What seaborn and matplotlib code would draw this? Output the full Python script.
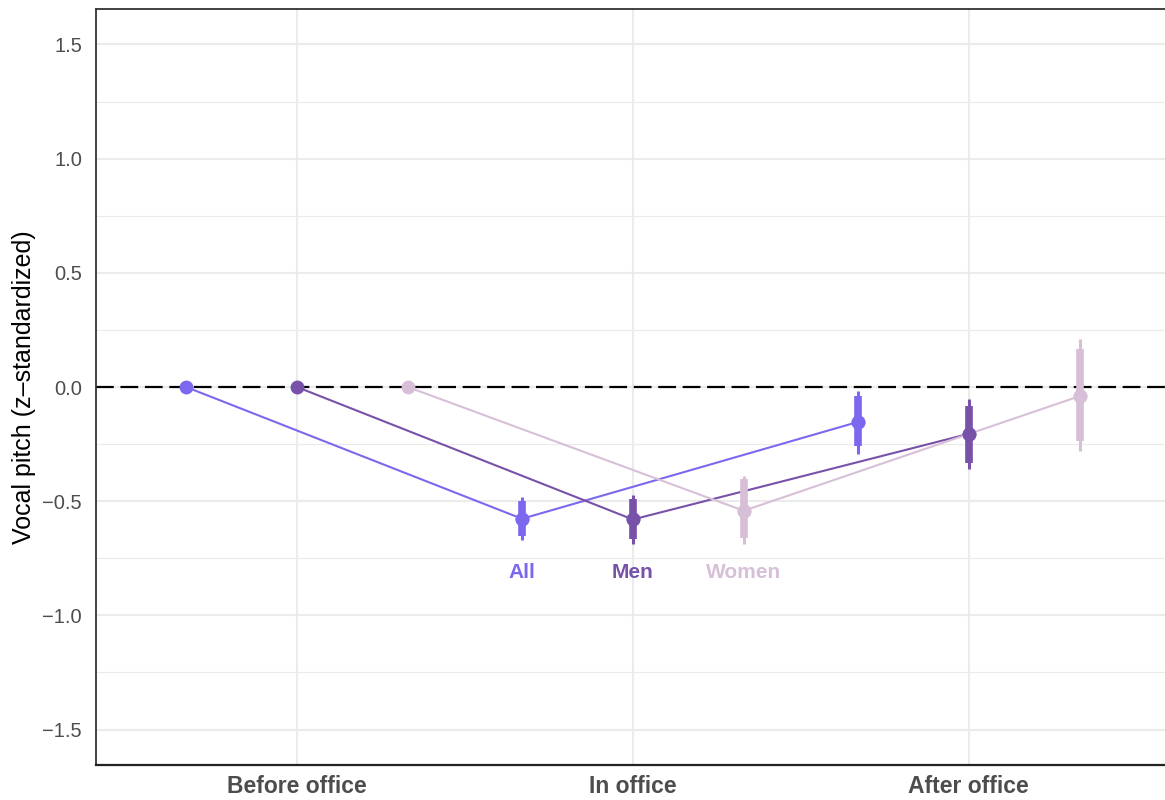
import numpy as np
import pandas as pd
import matplotlib
matplotlib.use("Agg")
import matplotlib.pyplot as plt
import seaborn as sns

# Periods relative to holding office and the three speaker groups
periods = ["Before office", "In office", "After office"]
groups = ["All", "Men", "Women"]
colors = ["#7B68EE", "#7851A9", "#D8BFD8"]

# Point estimates of vocal pitch (z-standardized); "Before office" is the reference level
all_est = [0.0, -0.577, -0.153]
men_est = [0.0, -0.580, -0.205]
women_est = [0.0, -0.542, -0.040]

# Inner (thick) intervals, lower / upper; reference level has none
all_inner_lo = [np.nan, -0.652, -0.258]
all_inner_hi = [np.nan, -0.499, -0.039]
men_inner_lo = [np.nan, -0.665, -0.332]
men_inner_hi = [np.nan, -0.490, -0.083]
women_inner_lo = [np.nan, -0.660, -0.236]
women_inner_hi = [np.nan, -0.402, 0.166]

# Outer (thin) intervals, lower / upper
all_outer_lo = [np.nan, -0.669, -0.293]
all_outer_hi = [np.nan, -0.481, -0.017]
men_outer_lo = [np.nan, -0.686, -0.359]
men_outer_hi = [np.nan, -0.472, -0.052]
women_outer_lo = [np.nan, -0.686, -0.280]
women_outer_hi = [np.nan, -0.389, 0.210]

label_y = -0.81

estimates = [all_est, men_est, women_est]
inner_lo = [all_inner_lo, men_inner_lo, women_inner_lo]
inner_hi = [all_inner_hi, men_inner_hi, women_inner_hi]
outer_lo = [all_outer_lo, men_outer_lo, women_outer_lo]
outer_hi = [all_outer_hi, men_outer_hi, women_outer_hi]

# Dodge the groups around each period position
offsets = np.linspace(-0.33, 0.33, len(groups))

rows = []
for g, name in enumerate(groups):
    for p, period in enumerate(periods):
        rows.append({
            "group": name,
            "period": period,
            "x": p + offsets[g],
            "estimate": estimates[g][p],
            "inner_lo": inner_lo[g][p],
            "inner_hi": inner_hi[g][p],
            "outer_lo": outer_lo[g][p],
            "outer_hi": outer_hi[g][p],
        })
df = pd.DataFrame(rows)

sns.set_theme(style="white")
plt.rcParams["font.family"] = ["Liberation Sans", "DejaVu Sans"]

fig = plt.figure(figsize=(11.65, 8.0), dpi=100)
ax = fig.add_axes([96 / 1165, 35 / 800, 1 - 96 / 1165, (765 - 9) / 800])

palette = dict(zip(groups, colors))

# Reference line at zero
ax.axhline(0, color="black", lw=1.6, dashes=(8, 3), zorder=1.5)

# Connecting lines and point estimates
sns.lineplot(data=df, x="x", y="estimate", hue="group", palette=palette,
             hue_order=groups, sort=False, errorbar=None, legend=False,
             linewidth=1.5, marker="o", markersize=10, markeredgewidth=0,
             ax=ax, zorder=3)

# Interval bars: thin outer, thick inner
for g, name in enumerate(groups):
    sub = df[df["group"] == name].dropna()
    ax.vlines(sub["x"], sub["outer_lo"], sub["outer_hi"], color=colors[g],
              lw=2.2, zorder=4)
    ax.vlines(sub["x"], sub["inner_lo"], sub["inner_hi"], color=colors[g],
              lw=5.5, zorder=4)
    ax.plot(sub["x"], sub["estimate"], "o", color=colors[g], ms=10,
            mew=0, zorder=5)
    # Group label below the in-office estimate
    ax.text(1 + offsets[g], label_y, name, color=colors[g], fontsize=15,
            fontweight="bold", ha="center", va="center", zorder=6)

# Axes ranges and ticks
ax.set_xlim(-0.598, 2.584)
ax.set_ylim(-1.655, 1.655)
ax.set_xticks(range(len(periods)))
ax.set_xticklabels(periods, fontsize=16.5, fontweight="bold", color="#4D4D4D")
ax.set_yticks(np.arange(-1.5, 1.51, 0.5))
ax.set_yticklabels([f"{v:.1f}".replace("-", "\u2212") for v in np.arange(-1.5, 1.51, 0.5)],
                   fontsize=14.5, color="#4D4D4D")
ax.set_yticks(np.arange(-1.25, 1.3, 0.5), minor=True)
ax.tick_params(axis="both", which="both", length=0)
ax.tick_params(axis="y", pad=10)
ax.tick_params(axis="x", pad=7)

ax.grid(which="major", axis="both", color="#EBEBEB", lw=1.5)
ax.grid(which="minor", axis="y", color="#EBEBEB", lw=0.8)
ax.set_axisbelow(True)

ax.set_xlabel("")
ax.set_ylabel("Vocal pitch (z\u2013standardized)", fontsize=18, color="black",
              labelpad=5)

for side in ["left", "top"]:
    ax.spines[side].set_color("#333333")
    ax.spines[side].set_linewidth(1.3)
ax.spines["bottom"].set_color("#222222")
ax.spines["bottom"].set_linewidth(1.6)
ax.spines["right"].set_visible(False)

fig.savefig("out.png", dpi=100)
